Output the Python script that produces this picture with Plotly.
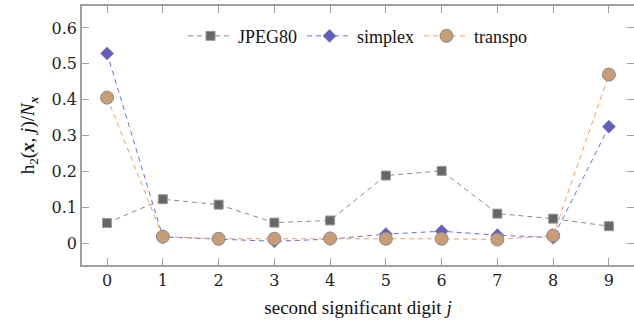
import plotly.graph_objects as go

digits = [0, 1, 2, 3, 4, 5, 6, 7, 8, 9]
jpeg80 = [0.057, 0.123, 0.108, 0.058, 0.064, 0.189, 0.202, 0.083, 0.069, 0.048]
simplex = [0.529, 0.018, 0.012, 0.006, 0.012, 0.026, 0.034, 0.023, 0.016, 0.325]
transpo = [0.406, 0.019, 0.013, 0.013, 0.014, 0.013, 0.013, 0.011, 0.022, 0.470]

y_ticks = [0, 0.1, 0.2, 0.3, 0.4, 0.5, 0.6]
y_labels = ["0", "0.1", "0.2", "0.3", "0.4", "0.5", "0.6"]

TICKF = "DejaVu Serif, Liberation Serif, serif"
TIMES = "Liberation Serif, Times New Roman, serif"

fig = go.Figure()
fig.add_trace(go.Scatter(
    x=digits, y=jpeg80, name="JPEG80", mode="lines+markers",
    line=dict(color="#8a8a8a", width=1, dash="5px,4px"),
    marker=dict(symbol="square", size=9, color="#666666", line=dict(color="#9a9a9a", width=1)),
))
fig.add_trace(go.Scatter(
    x=digits, y=simplex, name="simplex", mode="lines+markers",
    line=dict(color="#6a6af0", width=1, dash="5px,4px"),
    marker=dict(symbol="diamond", size=10, color="#6060b8", line=dict(color="#8888c8", width=1)),
))
fig.add_trace(go.Scatter(
    x=digits, y=transpo, name="transpo", mode="lines+markers",
    line=dict(color="#f0a060", width=1, dash="5px,4px"),
    marker=dict(symbol="circle", size=13, color="#c89c74", line=dict(color="#8a8a8a", width=1)),
))

axis_common = dict(
    showline=True, linecolor="#a0a0a0", linewidth=1.5, mirror="ticks",
    ticks="inside", ticklen=7, tickcolor="#a0a0a0", tickwidth=1.2,
    showgrid=False, zeroline=False, automargin=False,
    tickfont=dict(family=TICKF, size=16, color="#222222"),
)

fig.update_xaxes(
    range=[-0.45, 9.45], tickvals=digits, ticktext=[str(d) for d in digits],
    title=dict(text="second significant digit <i>j</i>", standoff=12,
               font=dict(family=TIMES, size=19, color="#111111")),
    **axis_common,
)
fig.update_yaxes(
    range=[-0.06, 0.661], tickvals=y_ticks, ticktext=y_labels,
    title=dict(text="h<sub>2</sub>(<b><i>x</i></b>, <i>j</i>)/<i>N</i><sub><b><i>x</i></b></sub>",
               standoff=12, font=dict(family=TIMES, size=19, color="#111111")),
    **axis_common,
)

fig.update_layout(
    width=634, height=333,
    margin=dict(l=82, r=0, t=6, b=68),
    plot_bgcolor="white", paper_bgcolor="white",
    font=dict(family=TIMES),
    showlegend=True,
    legend=dict(orientation="h", x=0.5, xanchor="center", y=0.955, yanchor="top",
                bgcolor="rgba(255,255,255,0)", font=dict(family=TIMES, size=18, color="#111111"),
                itemwidth=45, tracegroupgap=0),
)

fig.write_html("out.html")
